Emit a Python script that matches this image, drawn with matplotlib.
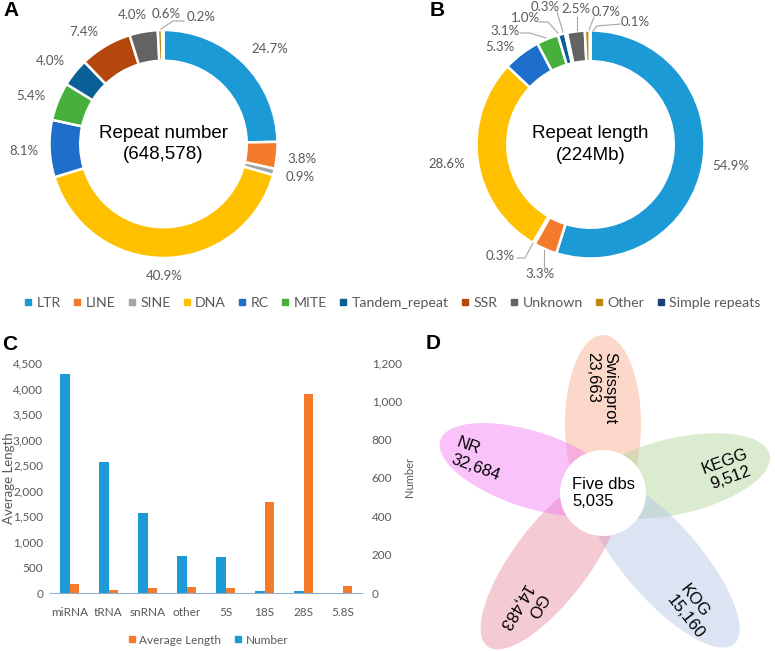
import numpy as np
import matplotlib.pyplot as plt
from matplotlib.lines import Line2D
from matplotlib.patches import Ellipse, Circle

plt.rcParams['font.family'] = ['Lato', 'DejaVu Sans']
ARIAL = ['Liberation Sans', 'DejaVu Sans']
GREY = '#595959'

# repeat annotation (panels A and B)
repeat_types = ['LTR', 'LINE', 'SINE', 'DNA', 'RC', 'MITE', 'Tandem_repeat',
                'SSR', 'Unknown', 'Other', 'Simple repeats']
repeat_colors = ['#1C9AD6', '#F47B2B', '#A5A5A5', '#FFC000', '#1D6FCB', '#47AF3C',
                 '#0A5F96', '#B4470B', '#636363', '#BB8A0E', '#1E3E78']
number_pct = [24.7, 3.8, 0.9, 40.9, 8.1, 5.4, 4.0, 7.4, 4.0, 0.6, 0.2]
length_pct = [54.9, 3.3, 0.3, 28.6, 5.3, 3.1, 1.0, 0.3, 2.5, 0.7, 0.1]

# ncRNA (panel C)
rna_types = ['miRNA', 'tRNA', 'snRNA', 'other', '5S', '18S', '28S', '5.8S']
avg_length = [183, 65, 98, 112, 100, 1780, 3890, 143]
rna_number = [1143, 682, 417, 195, 188, 12, 9, 0]

# functional annotation (panel D)
db_names = ['Swissprot', 'KEGG', 'KOG', 'GO', 'NR']
db_counts = [23663, 9512, 15160, 14483, 32684]
core_count = 5035

W, H = 775, 651
fig = plt.figure(figsize=(W / 100, H / 100), dpi=100)


def px_axes(x0, y0, x1, y1):
    return fig.add_axes([x0 / W, 1 - y1 / H, (x1 - x0) / W, (y1 - y0) / H])


def donut(box, center, R, values, title, label_px, leaders):
    x0, y0, x1, y1 = box
    cx, cy = center
    ax = px_axes(*box)
    wedges, _ = ax.pie(values, colors=repeat_colors, startangle=90, counterclock=False,
                       radius=1, wedgeprops=dict(width=0.27, edgecolor='white', linewidth=1.8))
    ax.set_aspect('auto')
    ax.set_xlim((x0 - cx) / R, (x1 - cx) / R)
    ax.set_ylim((cy - y1) / R, (cy - y0) / R)
    for i, v in enumerate(values):
        px, py = label_px[i]
        ax.text((px - cx) / R, (cy - py) / R, f'{v:.1f}%', ha='center', va='center',
                fontsize=9.5, color=GREY)
    for line in leaders:
        ax.plot([(p[0] - cx) / R for p in line], [(cy - p[1]) / R for p in line],
                color='#A6A6A6', lw=0.8)
    ax.text(0, 0, title, ha='center', va='center', fontsize=13.5, family=ARIAL,
            linespacing=1.35)
    return ax


# panel A
donut((0, 0, 388, 292), (163.5, 144), 114, number_pct, 'Repeat number\n(648,578)',
      [(270, 49), (302, 159), (300, 177), (164, 276), (24, 151), (31, 96),
       (50, 61), (84, 32), (132, 15), (166, 14), (201, 17)],
      [[(161, 29), (173, 21), (184, 21)]])

# panel B
donut((390, 0, 775, 292), (590.5, 144.5), 114, length_pct, 'Repeat length\n(224Mb)',
      [(731, 166), (540, 274), (500, 256), (447, 164), (500, 47), (505, 31),
       (525, 18), (545, 7), (576, 9), (606, 12), (635, 22)],
      [[(533, 243), (525, 258), (517, 258)],
       [(544, 250), (544, 267)],
       [(520, 33), (530, 33), (546, 38)],
       [(539, 22), (548, 22), (558, 33)],
       [(557, 12), (563, 32)],
       [(577, 17), (577, 30)],
       [(594, 17), (589, 30)],
       [(621, 24), (597, 26), (593, 31)]])

handles = [Line2D([], [], marker='s', ls='', color=c, markersize=5) for c in repeat_colors]
fig.legend(handles, repeat_types, loc='center', bbox_to_anchor=(392 / W, 1 - 303 / H),
           ncol=len(repeat_types), frameon=False, fontsize=10.2, handlelength=0.6,
           handletextpad=0.3, columnspacing=0.85, labelcolor=GREY)

# panel C
axc = px_axes(50, 363, 362, 593)
axr = axc.twinx()
x = np.arange(len(rna_types))
axc.bar(x + 0.12, avg_length, 0.24, color='#F47B2B')
axr.bar(x - 0.12, rna_number, 0.24, color='#1C9AD6')
axc.set_xlim(-0.5, len(rna_types) - 0.5)
axc.set_ylim(0, 4500)
axr.set_ylim(0, 1200)
axc.set_yticks(range(0, 4501, 500))
axc.set_yticklabels([f'{v:,}' for v in range(0, 4501, 500)])
axr.set_yticks(range(0, 1201, 200))
axr.set_yticklabels([f'{v:,}' for v in range(0, 1201, 200)])
axc.set_xticks(x)
axc.set_xticklabels(rna_types)
for a in (axc, axr):
    for s in a.spines.values():
        s.set_visible(False)
    a.tick_params(length=0, labelsize=8.5, labelcolor=GREY)
axc.spines['bottom'].set_visible(True)
axc.spines['bottom'].set_color('#8DB0D2')
axc.tick_params(axis='x', pad=10)
axc.tick_params(axis='y', pad=5)
axr.tick_params(axis='y', pad=7)
fig.text(9 / W, 1 - 478 / H, 'Average Length', rotation=90, ha='center', va='center',
         fontsize=9.5, color=GREY)
fig.text(409 / W, 1 - 477 / H, 'Number', rotation=90, ha='center', va='center',
         fontsize=8, color=GREY)
leg_c = [Line2D([], [], marker='s', ls='', color='#F47B2B', markersize=5),
         Line2D([], [], marker='s', ls='', color='#1C9AD6', markersize=5)]
fig.legend(leg_c, ['Average Length', 'Number'], loc='center', ncol=2,
           bbox_to_anchor=(208 / W, 1 - 640 / H), frameon=False, fontsize=8.5,
           handlelength=0.6, handletextpad=0.3, columnspacing=1.2, labelcolor=GREY)

# panel D
cx, cy = 603, 493
axd = px_axes(420, 330, 775, 651)
axd.set_xlim(420 - cx, 775 - cx)
axd.set_ylim(cy - 651, cy - 330)
axd.axis('off')
petal_angle = [90, 13, -49, -127, 162]
petal_reach = [158, 171, 200, 192, 171]
petal_colors = ['#F9A98B', '#B0D498', '#B3C4E6', '#E88A9E', '#F27AF5']
inner = 20
for ang, reach, col in zip(petal_angle, petal_reach, petal_colors):
    t = np.deg2rad(ang)
    d = (reach - inner) / 2
    axd.add_patch(Ellipse((d * np.cos(t), d * np.sin(t)), reach + inner, 76,
                          angle=ang, facecolor=col, alpha=0.45, lw=0))
axd.add_patch(Circle((0, 0), 43, facecolor='white', lw=0))
label_xy = [(-1.5, 105), (125, 23), (89, -119), (-81, -119), (-125, 34)]
label_rot = [-90, 20, -52, 239, -20]
label_align = ['left', 'center', 'left', 'left', 'left']
for name, cnt, (lx, ly), rot, al in zip(db_names, db_counts, label_xy, label_rot, label_align):
    axd.text(lx, ly, f'{name}\n{cnt:,}', rotation=rot, ha='center', va='center',
             multialignment=al, fontsize=12, family=ARIAL)
axd.text(1, 0, f'Five dbs\n{core_count:,}', ha='center', va='center',
         multialignment='left', fontsize=12, family=ARIAL)

# panel letters
for letter, (lx, ly) in zip('ABCD', [(3, 1), (430, 1), (2, 335), (426, 334)]):
    fig.text(lx / W, 1 - ly / H, letter, ha='left', va='top', fontsize=15,
             fontweight='bold', family=ARIAL)

fig.savefig('out.png', dpi=100)
